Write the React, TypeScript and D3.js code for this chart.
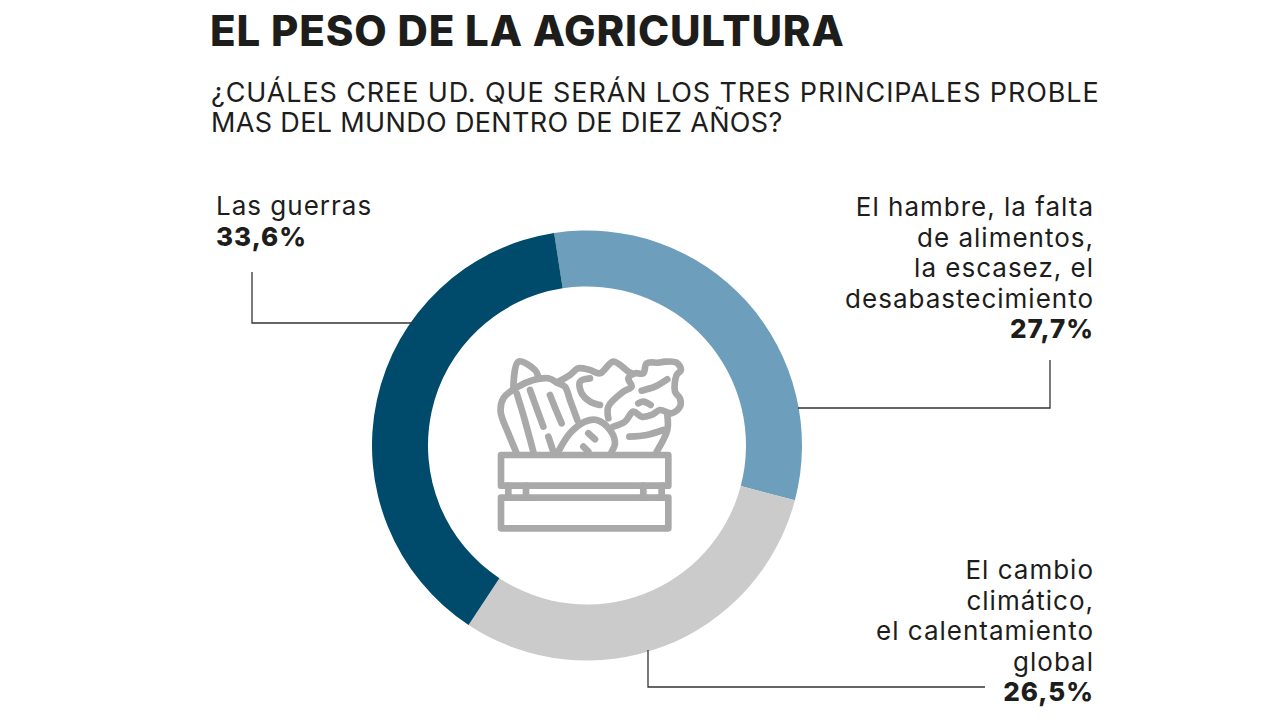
import * as d3 from 'd3';

const categories = ['Las guerras', 'El hambre', 'El cambio climático'];
const values = [33.6, 27.7, 26.5];
const valueLabels = ['33,6%', '27,7%', '26,5%'];
const colors = ['#004a6b', '#6d9fbd', '#cbcbcb'];

const labelLines = [
  ['Las guerras'],
  ['El hambre, la falta', 'de alimentos,', 'la escasez, el', 'desabastecimiento'],
  ['El cambio', 'climático,', 'el calentamiento', 'global'],
];

const title = 'EL PESO DE LA AGRICULTURA';
const subtitleLines = [
  '¿CUÁLES CREE UD. QUE SERÁN LOS TRES PRINCIPALES PROBLE',
  'MAS DEL MUNDO DENTRO DE DIEZ AÑOS?',
];

const FONT = 'Inter, "Noto Sans", sans-serif';
const INK = '#1d1d1b';
const width = 1280;
const height = 720;
const cx = 587;
const cy = 445.5;
const outerR = 215;
const innerR = 159;

// order in the ring, clockwise from just left of twelve o'clock
const ringOrder = [1, 2, 0];
const start = (-8.8 * Math.PI) / 180;

// label blocks: anchor x, first baseline
const labelPos = [
  { x: 216, y: 215, anchor: 'start' },
  { x: 1094, y: 216, anchor: 'end' },
  { x: 1094, y: 579, anchor: 'end' },
];
const leaders = [
  'M252,272V323H413',
  'M1050,360V408H798',
  'M648,650V687H985',
];
const subtitleSpacing = [0.88, 0.35];

// vegetables in the crate, traced as outlines
const iconCurves: [number, number][][] = [
  // squash
  [[108, 335], [85, 280], [62, 215], [70, 175], [105, 145], [160, 120], [205, 115], [235, 130], [255, 140], [270, 180], [292, 240]],
  [[110, 160], [130, 225], [160, 335]],
  [[150, 150], [170, 205], [190, 260]],
  [[210, 165], [228, 210], [245, 250]],
  [[205, 290], [220, 335]],
  // corn tip
  [[100, 145], [115, 65], [165, 90], [175, 110]],
  // cabbage
  [[235, 125], [270, 105], [295, 85], [330, 90], [360, 100], [400, 65], [445, 95], [455, 100]],
  [[330, 115], [300, 125], [305, 160], [330, 185], [360, 195]],
  // radish
  [[235, 335], [270, 280], [315, 245], [350, 240], [390, 270], [405, 310], [395, 335]],
  [[325, 280], [345, 298]],
  [[310, 320], [325, 335]],
  // lettuce
  [[385, 235], [385, 200], [430, 155], [455, 140], [445, 115], [465, 100], [490, 100], [500, 70], [535, 68], [555, 65], [590, 68], [603, 90], [590, 105], [585, 155], [600, 175], [600, 200], [575, 220], [540, 210], [515, 225], [485, 230], [460, 215], [435, 245], [400, 260]],
  [[485, 152], [525, 140], [562, 118]],
  [[475, 190], [490, 185], [512, 195]],
  [[562, 225], [562, 270], [530, 335]],
  [[448, 290], [500, 285], [550, 270]],
];
const iconLine = d3.line().curve(d3.curveCatmullRom.alpha(0.5));

function Crate() {
  return (
    <g
      transform="translate(480,340) scale(0.3333)"
      fill="none"
      stroke="#a9a9a9"
      strokeWidth={20}
      strokeLinecap="round"
      strokeLinejoin="round"
    >
      <rect x={63} y={345} width={502} height={92} />
      <rect x={63} y={473} width={502} height={92} />
      <path d="M85,437V473M138,437V473M490,437V473M545,437V473" />
      {iconCurves.map((pts, i) => (
        <path key={i} d={iconLine(pts) ?? ''} />
      ))}
    </g>
  );
}

export default function App() {
  const pie = d3
    .pie<number>()
    .sort(null)
    .startAngle(start)
    .endAngle(start + 2 * Math.PI);
  const arcs = pie(ringOrder.map((i) => values[i]));
  const arc = d3.arc<d3.PieArcDatum<number>>().innerRadius(innerR).outerRadius(outerR);

  return (
    <svg
      width={width}
      height={height}
      viewBox={`0 0 ${width} ${height}`}
      style={{ position: 'absolute', left: 0, top: 0, background: '#fff' }}
      fontFamily={FONT}
    >
      <text x={210} y={45.5} fontSize={42} fontWeight={800} fill={INK} letterSpacing={0.82}>
        {title}
      </text>
      {subtitleLines.map((t, i) => (
        <text key={t} x={211} y={101.5 + i * 30.5} fontSize={27} fill={INK} letterSpacing={subtitleSpacing[i]}>
          {t}
        </text>
      ))}

      <g transform={`translate(${cx},${cy})`}>
        {arcs.map((d, i) => (
          <path key={categories[ringOrder[i]]} d={arc(d) ?? ''} fill={colors[ringOrder[i]]} />
        ))}
      </g>

      <Crate />

      {leaders.map((d) => (
        <path key={d} d={d} fill="none" stroke="#333" strokeWidth={1.3} />
      ))}

      {labelLines.map((lines, i) => {
        const p = labelPos[i];
        return (
          <text key={i} textAnchor={p.anchor as 'start' | 'end'} fill={INK} fontSize={26} letterSpacing={1}>
            {lines.map((t, j) => (
              <tspan key={t} x={p.x} y={p.y + j * 30.5}>
                {t}
              </tspan>
            ))}
            <tspan x={p.x} y={p.y + lines.length * 30.5} fontWeight={800}>
              {valueLabels[i]}
            </tspan>
          </text>
        );
      })}
    </svg>
  );
}
